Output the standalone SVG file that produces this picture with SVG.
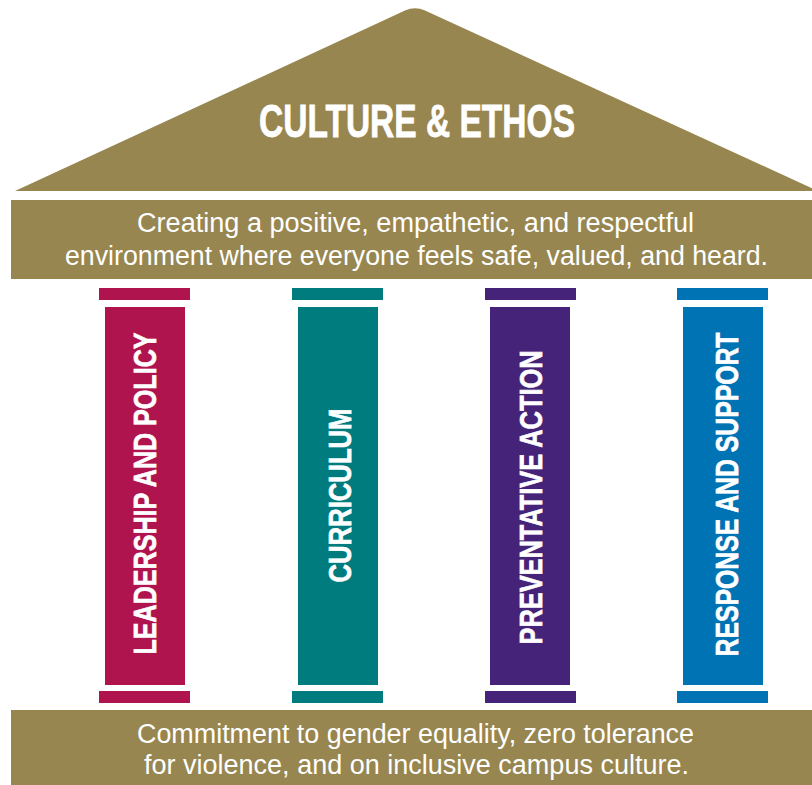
<svg xmlns="http://www.w3.org/2000/svg" width="812" height="785" viewBox="0 0 812 785">
  <style>
    .gold { fill: #97864F; }
    .band-text { font-family: "Liberation Sans Narrow", "Liberation Sans", Arial, sans-serif; font-size: 27px; fill: #ffffff; text-anchor: middle; }
    .title { font-family: "Liberation Sans Narrow", "Liberation Sans", Arial, sans-serif; font-size: 47px; font-weight: bold; fill: #ffffff; stroke: #ffffff; stroke-width: 0.8px; text-anchor: middle; }
    .pillar-label { font-family: "Liberation Sans Narrow", "Liberation Sans", Arial, sans-serif; font-size: 31px; font-weight: bold; fill: #ffffff; stroke: #ffffff; stroke-width: 0.7px; text-anchor: middle; }
    .p1 { fill: #B0144F; }
    .p2 { fill: #007B7E; }
    .p3 { fill: #452378; }
    .p4 { fill: #0073B4; }
  </style>
  <rect width="812" height="785" fill="#ffffff"/>

  <!-- Roof -->
  <g id="roof">
    <path class="gold" d="M15,191 L405,10.6 Q415,6 425,10.6 L818,191 Z"/>
    <text class="title" x="417" y="137" textLength="316" lengthAdjust="spacingAndGlyphs">CULTURE &amp; ETHOS</text>
  </g>

  <!-- Upper beam -->
  <g id="upper-beam">
    <rect class="gold" x="11" y="200" width="801" height="79"/>
    <text class="band-text" x="415.5" y="232" textLength="557" lengthAdjust="spacingAndGlyphs">Creating a positive, empathetic, and respectful</text>
    <text class="band-text" x="416.5" y="265" textLength="703" lengthAdjust="spacingAndGlyphs">environment where everyone feels safe, valued, and heard.</text>
  </g>

  <!-- Pillars -->
  <g id="pillar-leadership">
    <rect class="p1" x="99" y="288" width="91" height="12"/>
    <rect class="p1" x="105" y="307" width="80" height="378"/>
    <rect class="p1" x="99" y="691" width="91" height="12"/>
    <text class="pillar-label" transform="translate(156,493.5) rotate(-90)" textLength="322" lengthAdjust="spacingAndGlyphs">LEADERSHIP AND POLICY</text>
  </g>
  <g id="pillar-curriculum">
    <rect class="p2" x="292" y="288" width="91" height="12"/>
    <rect class="p2" x="298" y="307" width="80" height="378"/>
    <rect class="p2" x="292" y="691" width="91" height="12"/>
    <text class="pillar-label" transform="translate(350.5,495.5) rotate(-90)" textLength="174" lengthAdjust="spacingAndGlyphs">CURRICULUM</text>
  </g>
  <g id="pillar-preventative">
    <rect class="p3" x="485" y="288" width="91" height="12"/>
    <rect class="p3" x="490" y="307" width="80" height="378"/>
    <rect class="p3" x="485" y="691" width="91" height="12"/>
    <text class="pillar-label" transform="translate(541.5,497.5) rotate(-90)" textLength="294" lengthAdjust="spacingAndGlyphs">PREVENTATIVE ACTION</text>
  </g>
  <g id="pillar-response">
    <rect class="p4" x="677" y="288" width="91" height="12"/>
    <rect class="p4" x="683" y="307" width="80" height="378"/>
    <rect class="p4" x="677" y="691" width="91" height="12"/>
    <text class="pillar-label" transform="translate(737.5,494.5) rotate(-90)" textLength="324" lengthAdjust="spacingAndGlyphs">RESPONSE AND SUPPORT</text>
  </g>

  <!-- Foundation -->
  <g id="foundation">
    <rect class="gold" x="11" y="710" width="801" height="75"/>
    <text class="band-text" x="415.5" y="743" textLength="557" lengthAdjust="spacingAndGlyphs">Commitment to gender equality, zero tolerance</text>
    <text class="band-text" x="416.5" y="774" textLength="545" lengthAdjust="spacingAndGlyphs">for violence, and on inclusive campus culture.</text>
  </g>

  <!-- No connectors in this figure -->
  <g id="connectors"/>
</svg>
